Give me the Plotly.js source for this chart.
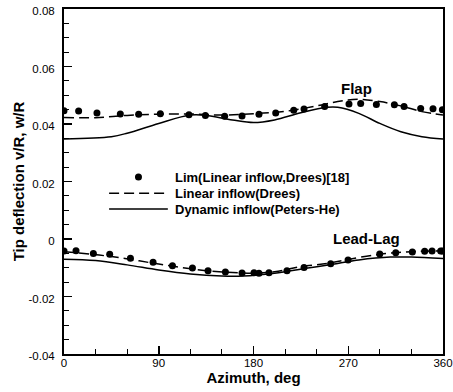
<!DOCTYPE html>
<html><head><meta charset="utf-8">
<script src="https://cdn.plot.ly/plotly-3.0.1.min.js"></script>
<style>html,body{margin:0;padding:0;background:#fff}#chart{width:453px;height:392px}</style>
</head><body><div id="chart"></div>
<script>
// Flap - Lim (Linear inflow, Drees) [18] points
const flapLimX = [0, 13.9, 31.3, 53.5, 70.9, 91.5, 118.7, 134.3, 152.6, 169.1, 185.2, 201.1, 218.2, 228, 247.6, 270.7, 281.8, 296.7, 313.8, 323, 338.8, 350.5, 359.4];
const flapLimY = [0.0446, 0.0445, 0.0438, 0.0435, 0.0434, 0.0436, 0.0432, 0.0430, 0.0427, 0.0428, 0.0434, 0.0438, 0.0448, 0.0452, 0.0461, 0.0470, 0.0471, 0.0468, 0.0467, 0.0461, 0.0454, 0.0453, 0.0450];
// Flap - Linear inflow (Drees)
const flapLinX = [0, 30, 60, 90, 120, 150, 180, 210, 240, 260, 280, 300, 320, 340, 360];
const flapLinY = [0.0423, 0.0422, 0.0430, 0.0434, 0.0435, 0.0431, 0.0436, 0.0444, 0.0463, 0.0478, 0.0486, 0.0478, 0.0463, 0.0443, 0.0431];
// Flap - Dynamic inflow (Peters-He)
const flapDynX = [0, 45, 60, 90, 120, 135, 160, 180, 200, 225, 250, 260, 280, 300, 320, 340, 360];
const flapDynY = [0.0348, 0.0356, 0.0368, 0.0402, 0.0431, 0.0430, 0.0414, 0.0405, 0.0414, 0.0439, 0.0458, 0.0458, 0.0437, 0.0402, 0.0373, 0.0356, 0.0348];
// Lead-Lag - Lim points
const lagLimX = [0, 11.4, 27.9, 43.4, 63.1, 84.6, 103, 122, 136.8, 153.3, 169.1, 180.5, 185.2, 194.7, 211.8, 228, 253.3, 269.8, 299.9, 315.1, 330.9, 342.6, 349.6, 357.8, 359.4];
const lagLimY = [-0.0042, -0.0041, -0.0050, -0.0053, -0.0067, -0.0081, -0.0093, -0.0101, -0.0110, -0.0115, -0.0118, -0.0117, -0.0119, -0.0117, -0.0110, -0.0099, -0.0086, -0.0073, -0.0052, -0.0048, -0.0045, -0.0043, -0.0042, -0.0042, -0.0042];
// Lead-Lag - Linear inflow (Drees)
const lagLinX = [0, 45, 90, 135, 180, 200, 225, 250, 270, 300, 330, 360];
const lagLinY = [-0.0044, -0.0061, -0.0087, -0.0110, -0.0119, -0.0114, -0.0096, -0.0085, -0.0071, -0.0053, -0.0044, -0.0041];
// Lead-Lag - Dynamic inflow (Peters-He)
const lagDynX = [0, 30, 60, 90, 120, 150, 170, 200, 230, 260, 280, 310, 330, 360];
const lagDynY = [-0.0070, -0.0075, -0.0090, -0.0108, -0.0122, -0.0129, -0.0129, -0.0119, -0.0102, -0.0085, -0.0073, -0.0063, -0.0063, -0.0068];

const names = ['Lim(Linear inflow,Drees)[18]', 'Linear inflow(Drees)', 'Dynamic inflow(Peters-He)'];
const xTicks = [0, 90, 180, 270, 360];
const yTicks = [-0.04, -0.02, 0, 0.02, 0.04, 0.06, 0.08];
const yTickText = ['-0.04', '-0.02', '0', '0.02', '0.04', '0.06', '0.08'];

const dashStyle = '10px,5px';
const mk = {color: '#000', size: 7};
const traces = [
  {x: flapLimX, y: flapLimY, mode: 'markers', marker: mk, name: names[0]},
  {x: flapLinX, y: flapLinY, mode: 'lines', line: {color: '#000', width: 1.5, dash: dashStyle, shape: 'spline'}, name: names[1]},
  {x: flapDynX, y: flapDynY, mode: 'lines', line: {color: '#000', width: 1.5, shape: 'spline'}, name: names[2]},
  {x: lagLimX, y: lagLimY, mode: 'markers', marker: mk, name: names[0]},
  {x: lagLinX, y: lagLinY, mode: 'lines', line: {color: '#000', width: 1.5, dash: dashStyle, shape: 'spline'}, name: names[1]},
  {x: lagDynX, y: lagDynY, mode: 'lines', line: {color: '#000', width: 1.5, shape: 'spline'}, name: names[2]}
];

// Legend (drawn manually to match the original compact layout)
const legX0 = 0.119, legX1 = 0.274, legTextX = 0.288;
const legRows = [0.513, 0.466, 0.420];
const shapes = [
  {type: 'circle', xref: 'paper', yref: 'paper', xsizemode: 'pixel', ysizemode: 'pixel',
   xanchor: (legX0 + legX1) / 2, yanchor: legRows[0], x0: -3.5, x1: 3.5, y0: -3.5, y1: 3.5,
   fillcolor: '#000', line: {color: '#000', width: 0}},
  {type: 'line', xref: 'paper', yref: 'paper', x0: legX0, x1: legX1, y0: legRows[1], y1: legRows[1],
   line: {color: '#000', width: 1.5, dash: dashStyle}},
  {type: 'line', xref: 'paper', yref: 'paper', x0: legX0, x1: legX1, y0: legRows[2], y1: legRows[2],
   line: {color: '#000', width: 1.5}}
];

const fontFam = 'Liberation Sans, Arial, sans-serif';
const legendAnn = names.map((n, i) => ({x: legTextX, y: legRows[i], xref: 'paper', yref: 'paper', text: n,
  showarrow: false, xanchor: 'left', yanchor: 'middle', font: {size: 13, weight: 'bold', color: '#000'}}));

const layout = {
  width: 453, height: 392,
  margin: {l: 64, r: 10, t: 9, b: 38},
  paper_bgcolor: '#fff', plot_bgcolor: '#fff',
  font: {family: fontFam, size: 12, color: '#000'},
  showlegend: false,
  xaxis: {range: [0, 360], tickvals: xTicks, ticktext: xTicks.map(String), ticks: 'inside', ticklen: 8, tickwidth: 1.5,
    color: '#000', showgrid: false, zeroline: false, showline: true, linewidth: 2, linecolor: '#000', mirror: true,
    minor: {dtick: 30, tick0: 0, ticks: 'inside', ticklen: 5, tickwidth: 1, showgrid: false},
    tickfont: {size: 11.5, color: '#000'}, ticklabelstandoff: -3, ticklabeloverflow: 'allow',
    title: {text: 'Azimuth, deg', font: {size: 15, weight: 'bold', color: '#000'}, standoff: 0}},
  yaxis: {range: [-0.04, 0.08], tickvals: yTicks, ticktext: yTickText, ticks: 'inside', ticklen: 8, tickwidth: 1.5,
    color: '#000', showgrid: false, zeroline: false, showline: true, linewidth: 2, linecolor: '#000', mirror: true,
    minor: {dtick: 0.005, tick0: 0, ticks: 'inside', ticklen: 5, tickwidth: 1, showgrid: false},
    tickfont: {size: 11.5, color: '#000'}, ticklabelstandoff: 5, ticklabelshift: 2,
    title: {text: 'Tip deflection v/R, w/R', font: {size: 15, weight: 'bold', color: '#000'}, standoff: 0}},
  shapes: shapes,
  annotations: [
    {x: 261, y: 0.0525, xref: 'x', yref: 'y', text: 'Flap', showarrow: false, font: {size: 15, weight: 'bold'}, xanchor: 'left', yanchor: 'middle'},
    {x: 254, y: 0.0003, xref: 'x', yref: 'y', text: 'Lead-Lag', showarrow: false, font: {size: 15, weight: 'bold'}, xanchor: 'left', yanchor: 'middle'}
  ].concat(legendAnn)
};
Plotly.newPlot('chart', traces, layout, {displayModeBar: false, staticPlot: true});
</script></body></html>
